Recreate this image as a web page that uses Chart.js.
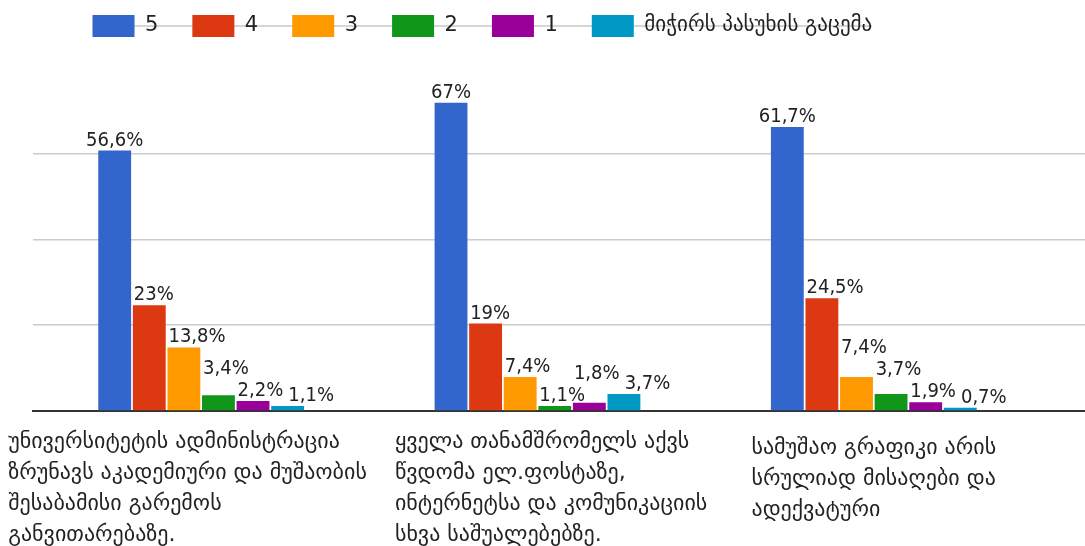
<!DOCTYPE html>
<html>
<head>
<meta charset="utf-8">
<script src="https://cdn.jsdelivr.net/npm/chart.js@4.4.1/dist/chart.umd.min.js"></script>
<style>
  html, body { margin: 0; padding: 0; background: #fff; }
  #wrap { width: 1085px; height: 546px; position: relative; }
</style>
</head>
<body>
<div id="wrap"><canvas id="chart"></canvas></div>
<script>
// カテゴリ（質問文、行ごと）
const categories = [
  ["უნივერსიტეტის ადმინისტრაცია", "ზრუნავს აკადემიური და მუშაობის", "შესაბამისი გარემოს", "განვითარებაზე."],
  ["ყველა თანამშრომელს აქვს", "წვდომა ელ.ფოსტაზე,", "ინტერნეტსა და კომუნიკაციის", "სხვა საშუალებებზე."],
  ["სამუშაო გრაფიკი არის", "სრულიად მისაღები და", "ადექვატური"],
];

// 系列
const seriesNames = ["5", "4", "3", "2", "1", "მიჭირს პასუხის გაცემა"];
const score5 = [56.6, 67, 61.7];
const score4 = [23, 19, 24.5];
const score3 = [13.8, 7.4, 7.4];
const score2 = [3.4, 1.1, 3.7];
const score1 = [2.2, 1.8, 1.9];
const noAnswer = [1.1, 3.7, 0.7];
const seriesValues = [score5, score4, score3, score2, score1, noAnswer];
const seriesColors = ["#3366cc", "#dc3912", "#ff9900", "#109618", "#990099", "#0099c6"];

// 目盛り（グリッド線）
const gridTicks = [0, 18.65, 37.3, 55.95];

const FONT = "'DejaVu Sans', 'Noto Sans', sans-serif";
const VALUE_FONT = "'DejaVu Sans Condensed', 'DejaVu Sans', sans-serif";
const LEGEND_FONT = "'DejaVu Sans', sans-serif";

// 凡例の後ろのグレー線
const legendLine = {
  id: "legendLine",
  beforeDraw(chart) {
    const boxes = chart.legend && chart.legend.legendHitBoxes;
    if (!boxes || !boxes.length) return;
    const ctx = chart.ctx;
    const first = boxes[0];
    const last = boxes[boxes.length - 1];
    const y = first.top + first.height / 2;
    ctx.save();
    ctx.strokeStyle = "#d6d6d6";
    ctx.lineWidth = 2;
    ctx.beginPath();
    ctx.moveTo(first.left, y);
    ctx.lineTo(last.left + last.width, y);
    ctx.stroke();
    ctx.restore();
  },
  afterLayout(chart) {
    // 凡例を右へずらす
    chart.legend.left += 25.5;
    chart.legend.right += 25.5;
  },
};

// 棒の上の値ラベル（重なりは高い棒のラベルを上へ逃がす）
const valueLabels = {
  id: "valueLabels",
  afterDatasetsDraw(chart) {
    const ctx = chart.ctx;
    const TEXT_H = 16;
    ctx.save();
    ctx.font = "20px " + VALUE_FONT;
    ctx.fillStyle = "#222";
    ctx.textBaseline = "alphabetic";
    ctx.textAlign = "left";
    const n = chart.data.datasets.length;
    for (let i = 0; i < categories.length; i++) {
      const items = [];
      let prevRight = -Infinity;
      for (let s = 0; s < n; s++) {
        const ds = chart.data.datasets[s];
        const bar = chart.getDatasetMeta(s).data[i];
        const text = String(ds.data[i].y).replace(".", ",") + "%";
        const w = ctx.measureText(text).width;
        let left = s === 0 ? bar.x - w / 2 : bar.x - bar.width / 2 + 1;
        // 最後の系列は前のラベルの右へ
        if (s === n - 1 && left < prevRight + 5) left = prevRight + 5;
        prevRight = left + w;
        items.push({ text, left, right: left + w, base: bar.y - 5, value: ds.data[i].y });
      }
      const placed = [];
      items
        .slice()
        .sort((a, b) => a.value - b.value)
        .forEach((it) => {
          let moved = true;
          while (moved) {
            moved = false;
            for (const p of placed) {
              const xo = it.left < p.right && it.right > p.left;
              const yo = it.base - TEXT_H < p.base && it.base > p.base - TEXT_H;
              if (xo && yo) {
                it.base = p.base - TEXT_H - 6;
                moved = true;
              }
            }
          }
          placed.push(it);
        });
      items.forEach((it) => ctx.fillText(it.text, it.left, it.base));
    }
    ctx.restore();
  },
};

// カテゴリラベル（左揃えのブロックを中央に配置、隣と離す）
const categoryLabels = {
  id: "categoryLabels",
  afterDraw(chart) {
    const ctx = chart.ctx;
    const xs = chart.scales.x;
    const GAP = 28;
    ctx.save();
    ctx.font = "22px " + FONT;
    ctx.fillStyle = "#222";
    ctx.textAlign = "left";
    ctx.textBaseline = "middle";
    const blocks = categories.map((lines, i) => {
      const w = Math.max(...lines.map((l) => ctx.measureText(l).width));
      const left = xs.getPixelForValue(i) - w / 2;
      return { lines, left, right: left + w };
    });
    for (let i = 1; i < blocks.length; i++) {
      const gap = blocks[i].left - blocks[i - 1].right;
      if (gap < GAP) {
        const shift = (GAP - gap) / 2;
        blocks[i - 1].left -= shift;
        blocks[i - 1].right -= shift;
        blocks[i].left += shift;
        blocks[i].right += shift;
      }
    }
    blocks.forEach((b) => {
      const y0 = chart.chartArea.bottom + 31 + (4 - b.lines.length) * 6;
      b.lines.forEach((l, k) => ctx.fillText(l, b.left, y0 + k * 31));
    });
    ctx.restore();
  },
};

const datasets = seriesNames.map((name, s) => ({
  label: name,
  data: seriesValues[s].map((v, i) => ({ x: i, y: v })),
  backgroundColor: seriesColors[s],
  borderWidth: 0,
  categoryPercentage: 0.617,
  barPercentage: 0.95,
}));

new Chart(document.getElementById("chart"), {
  type: "bar",
  data: { datasets: datasets },
  options: {
    responsive: true,
    maintainAspectRatio: false,
    animation: false,
    layout: { padding: { top: -19, left: 33, right: 0, bottom: 135 } },
    plugins: {
      legend: {
        position: "top",
        align: "start",
        labels: {
          boxWidth: 42,
          boxHeight: 22,
          padding: 34,
          color: "#222",
          font: { family: LEGEND_FONT, size: 21 },
        },
      },
      tooltip: { enabled: false },
    },
    scales: {
      x: {
        type: "linear",
        min: -0.5,
        max: 2.628,
        offset: false,
        afterBuildTicks: (scale) => {
          scale.ticks = categories.map((c, i) => ({ value: i }));
        },
        ticks: { display: false },
        grid: { display: false, drawTicks: false },
        border: { display: true, color: "#333", width: 2 },
      },
      y: {
        min: 0,
        max: 79.1,
        afterBuildTicks: (scale) => {
          scale.ticks = gridTicks.map((v) => ({ value: v }));
        },
        ticks: { display: false },
        grid: {
          drawTicks: false,
          lineWidth: 1.5,
          color: (c) => (c.tick && c.tick.value === 0 ? "rgba(0,0,0,0)" : "#cccccc"),
        },
        border: { display: false },
      },
    },
  },
  plugins: [legendLine, valueLabels, categoryLabels],
});
</script>
</body>
</html>
